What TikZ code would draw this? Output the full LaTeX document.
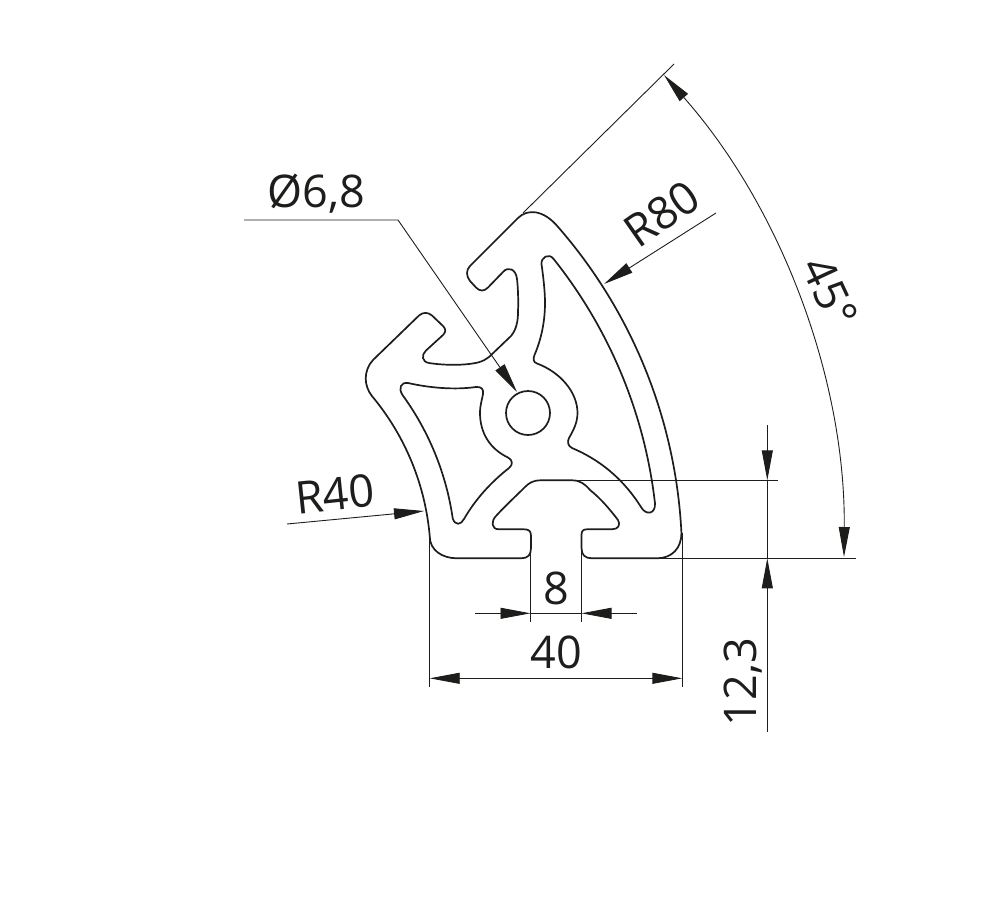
\documentclass[tikz,border=0pt]{standalone}
\usepackage{fontspec}
\setmainfont{Open Sans}
\usetikzlibrary{arrows.meta}
\definecolor{ink}{RGB}{29,29,27}
\tikzset{
  part/.style={draw=ink,line width=1.7pt,line join=round},
  dimline/.style={draw=ink,line width=0.9pt},
  tip/.style={-{Triangle[length=30pt,width=11pt,fill=ink]}},
  twotip/.style={{Triangle[length=30pt,width=11pt,fill=ink]}-{Triangle[length=30pt,width=11pt,fill=ink]}},
  dimtext/.style={text=ink,font=\fontsize{45}{45}\selectfont,inner sep=0pt,anchor=center},
}
\begin{document}
\begin{tikzpicture}[x=1pt,y=-1pt]
\useasboundingbox (0,0) rectangle (1007,897);
% profile outline
\draw[part] (518,218) .. controls (527,209) and (543,209) .. (558.1,227)
  arc[start angle=41.06,end angle=2.84,radius=504pt]
  .. controls (681.5,548) and (672,558.3) .. (657,558.3) -- (592,558.3)
  .. controls (585,558.3) and (581.5,555) .. (581.5,548) -- (581.5,535)
  .. controls (581.5,531) and (583,529.3) .. (587,529.3) -- (612,529.3)
  .. controls (618,529.3) and (621,525) .. (618,520)
  .. controls (608,507) and (600,498) .. (590,490)
  .. controls (585,484) and (580,480.3) .. (572,480.3) -- (541,480.3)
  .. controls (533,480.3) and (529,483) .. (525,487)
  .. controls (515,497) and (506,505) .. (496,516)
  .. controls (491,521) and (491,529.3) .. (499,529.3) -- (524,529.3)
  .. controls (529,529.3) and (531,531) .. (531,536) -- (531,548)
  .. controls (531,555) and (528,558.3) .. (521,558.3) -- (457,558.3)
  .. controls (442,558.3) and (430,550) .. (429.8,537)
  arc[start angle=4.76,end angle=39.9,radius=252.7pt]
  .. controls (364,386) and (363,371) .. (373,360) -- (419,315.5)
  .. controls (423,312) and (428,312) .. (432,315.5) -- (443,326)
  .. controls (446,329) and (446,332) .. (443,335) -- (426,350.5)
  .. controls (421,355) and (422,362) .. (429,363)
  .. controls (445,365.5) and (465,365.5) .. (478,362.5)
  .. controls (483,361) and (486,359.5) .. (489,357) -- (511,336)
  .. controls (516,330) and (518,322) .. (518,312)
  .. controls (518.5,300) and (518,288) .. (517,279)
  .. controls (516,269) and (508,266) .. (503,272) -- (488,287.5)
  .. controls (484,291.5) and (480,291.5) .. (476,287.5) -- (470,281)
  .. controls (466,276) and (466,270) .. (470,266) -- cycle;
% right cavity
\draw[part] (553.4,258.7) arc[start angle=38.57,end angle=6.58,radius=480pt]
  .. controls (656,514) and (646,516) .. (641,507)
  .. controls (622,477) and (598,459) .. (572,448)
  .. controls (568,446) and (567,442) .. (569,438)
  .. controls (573,431) and (577.5,423) .. (577.5,413)
  .. controls (577.5,392) and (560,372) .. (537,363.5)
  .. controls (533,362) and (533,359) .. (534.5,355)
  .. controls (541,340) and (545,322) .. (545,303)
  .. controls (545,290) and (543,275) .. (541.5,264)
  .. controls (541,257) and (549,253) .. cycle;
% left cavity
\draw[part] (402.5,395) arc[start angle=36.04,end angle=8.3,radius=277.5pt]
  .. controls (455,526) and (461,525) .. (464,519)
  .. controls (475,500) and (490,483) .. (509,468)
  .. controls (513,465) and (513,460) .. (508,457.5)
  .. controls (490,449) and (480,433) .. (480,413)
  .. controls (480,405) and (482,400) .. (483,394)
  .. controls (484,389) and (481,386.5) .. (476,387)
  .. controls (455,390) and (430,388) .. (408,383)
  .. controls (401,382) and (398,388) .. cycle;
% bore
\node[part,circle,minimum size=44pt,inner sep=0pt] (bore) at (528,413) {};
% free ends
\coordinate (phiA) at (244,220);
\coordinate (phiB) at (398,220);
\coordinate (phiC) at (517,392);
\coordinate (angExtA) at (674,64);
\coordinate (angExtB) at (523,213);
\coordinate (rEightyA) at (716,213);
\coordinate (rEightyB) at (604,284);
\coordinate (rFortyA) at (287,524);
\coordinate (rFortyB) at (424,511);
\coordinate (eightL) at (530.5,552);
\coordinate (eightLb) at (530.5,622);
\coordinate (eightR) at (581.5,552);
\coordinate (eightRb) at (581.5,622);
\coordinate (eightLt) at (530.5,613.3);
\coordinate (eightRt) at (581.5,613.3);
\coordinate (eightLo) at (475,613.3);
\coordinate (eightRo) at (637,613.3);
\coordinate (fortyL) at (429.7,538);
\coordinate (fortyLb) at (429.7,686.5);
\coordinate (fortyR) at (682.3,533);
\coordinate (fortyRb) at (682.3,686.5);
\coordinate (fortyLt) at (429.7,678.3);
\coordinate (fortyRt) at (682.3,678.3);
\coordinate (hTop) at (767.3,425);
\coordinate (hTopT) at (767.3,480.3);
\coordinate (hBotT) at (767.3,558.3);
\coordinate (hBot) at (767.3,731.5);
\coordinate (extTa) at (577,480.3);
\coordinate (extTb) at (778,480.3);
\coordinate (extBa) at (660,558.3);
\coordinate (extBb) at (856,558.3);
\coordinate (angEnd) at (844,557);
% dimension lines
\draw[dimline,tip,line join=round] (phiA) -- (phiB) -- (phiC);
\draw[dimline] (angExtA) -- (angExtB);
\draw[dimline,tip] (rEightyA) -- (rEightyB);
\draw[dimline,tip] (rFortyA) -- (rFortyB);
\draw[dimline] (eightL) -- (eightLb);
\draw[dimline] (eightR) -- (eightRb);
\draw[dimline,tip] (eightLo) -- (eightLt);
\draw[dimline,tip] (eightRo) -- (eightRt);
\draw[dimline] (eightLt) -- (eightRt);
\draw[dimline] (fortyL) -- (fortyLb);
\draw[dimline] (fortyR) -- (fortyRb);
\draw[dimline,twotip] (fortyLt) -- (fortyRt);
\draw[dimline,tip] (hTop) -- (hTopT);
\draw[dimline] (hTopT) -- (hBotT);
\draw[dimline,tip] (hBot) -- (hBotT);
\draw[dimline] (extTa) -- (extTb);
\draw[dimline] (extBa) -- (extBb);
\draw[dimline,twotip] (angEnd) arc[start angle=-0.51,end angle=41.47,radius=718.2pt];
% labels
\node[dimtext] (lPhi) at (316,194) {Ø6,8};
\node[dimtext,rotate=35] (lR80) at (662,214) {R80};
\node[dimtext,rotate=6] (lR40) at (335,494) {R40};
\node[dimtext,rotate=-65] (lAng) at (830,292) {45°};
\node[dimtext] (l8) at (556,588) {8};
\node[dimtext] (l40) at (556,652) {40};
\node[dimtext,rotate=90] (l123) at (743,682) {12,3};
\end{tikzpicture}
\end{document}
